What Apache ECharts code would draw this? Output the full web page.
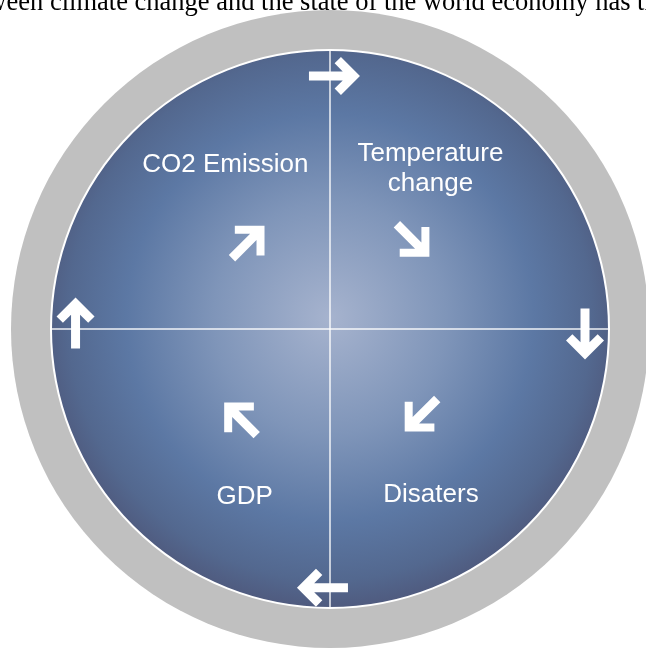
<!DOCTYPE html>
<html>
<head>
<meta charset="utf-8">
<script src="https://cdn.jsdelivr.net/npm/echarts@6/dist/echarts.min.js"></script>
<style>
html,body{margin:0;padding:0;background:#fff;}
#chart{width:646px;height:649px;}
</style>
</head>
<body>
<div id="chart"></div>
<script>
// Diagram content
const headerText = 'between climate change and the state of the world economy has the';
const quadrantLabels = ['CO2 Emission', 'Temperature\nchange', 'Disaters', 'GDP'];
const labelX = [-0.375, 0.36, 0.362, -0.306];
const labelY = [0.588, 0.574, -0.595, -0.602];
// arrows: position (data units) and direction (degrees, counter-clockwise from up)
const arrowX = [0.016, 0.914, -0.027, -0.912, -0.293, 0.298, 0.326, -0.321];
const arrowY = [0.907, -0.018, -0.927, 0.0215, 0.312, 0.317, -0.309, -0.322];
const arrowDir = [-90, 180, 90, 0, -45, -135, 135, 45];
const arrowKind = ['outer', 'outer', 'outer', 'outer', 'inner', 'inner', 'inner', 'inner'];

// block arrow pointing up: width w, length h, arm thickness t, shaft thickness s
function arrowShape(w, h, t, s) {
  const r2 = Math.SQRT2;
  const c = w / 2;
  const pts = [
    [c, 0], [w, c], [w - t / r2, c + t / r2], [c + s / 2, r2 * t + s / 2],
    [c + s / 2, h], [c - s / 2, h], [c - s / 2, r2 * t + s / 2],
    [t / r2, c + t / r2], [0, c]
  ];
  return 'path://M' + pts.map(p => p[0].toFixed(2) + ',' + p[1].toFixed(2)).join(' L') + ' Z';
}
const shapes = {
  outer: {path: arrowShape(38, 51, 9, 9), size: [38, 51]},
  inner: {path: arrowShape(42, 46, 8, 9), size: [42, 46]}
};

const chart = echarts.init(document.getElementById('chart'), null, {renderer: 'canvas'});

const labelData = quadrantLabels.map((t, i) => ({name: t, value: [labelX[i], labelY[i]]}));
const arrowData = arrowX.map((x, i) => ({
  value: [x, arrowY[i]],
  symbol: shapes[arrowKind[i]].path,
  symbolRotate: arrowDir[i],
  symbolSize: shapes[arrowKind[i]].size
}));

const option = {
  backgroundColor: '#ffffff',
  animation: false,
  grid: {left: 51, top: 50, width: 558, height: 558, containLabel: false},
  xAxis: {type: 'value', min: -1, max: 1, show: false},
  yAxis: {type: 'value', min: -1, max: 1, show: false},
  graphic: [{
    type: 'text',
    z: 100,
    style: {
      text: headerText,
      x: -45,
      y: 3,
      font: '26.5px "Liberation Serif", "Times New Roman", serif',
      fill: '#000',
      verticalAlign: 'middle'
    }
  }],
  series: [
    {
      type: 'scatter', silent: true, clip: false, z: 1,
      symbol: 'circle', symbolSize: 638,
      itemStyle: {color: '#c0c0c0', opacity: 1},
      data: [[0, 0]]
    },
    {
      type: 'scatter', silent: true, clip: false, z: 2,
      symbol: 'circle', symbolSize: 558,
      itemStyle: {
        opacity: 1,
        color: {
          type: 'radial', x: 0.5, y: 0.48, r: 0.52,
          colorStops: [
            {offset: 0, color: '#a6b3ce'},
            {offset: 0.4, color: '#7f95b9'},
            {offset: 0.7, color: '#5c78a4'},
            {offset: 0.9, color: '#53688f'},
            {offset: 1, color: '#4f5a7e'}
          ]
        },
        borderColor: '#ffffff', borderWidth: 2
      },
      data: [[0, 0]]
    },
    {
      type: 'line', silent: true, z: 3, symbol: 'none',
      lineStyle: {color: 'rgba(255,255,255,0.9)', width: 1.5},
      data: [[-1, 0], [1, 0]]
    },
    {
      type: 'line', silent: true, z: 3, symbol: 'none',
      lineStyle: {color: 'rgba(255,255,255,0.9)', width: 1.5},
      data: [[0, -1], [0, 1]]
    },
    {
      type: 'scatter', silent: true, clip: false, z: 4,
      itemStyle: {color: '#ffffff', opacity: 1},
      data: arrowData
    },
    {
      type: 'scatter', silent: true, clip: false, z: 5,
      symbol: 'circle', symbolSize: 1,
      itemStyle: {color: 'rgba(0,0,0,0)', opacity: 1},
      label: {
        show: true, position: 'inside',
        formatter: p => p.name,
        color: '#ffffff',
        fontFamily: '"Liberation Sans", Arial, sans-serif',
        fontSize: 26, lineHeight: 30, align: 'center'
      },
      data: labelData
    }
  ]
};
chart.setOption(option);
</script>
</body>
</html>
